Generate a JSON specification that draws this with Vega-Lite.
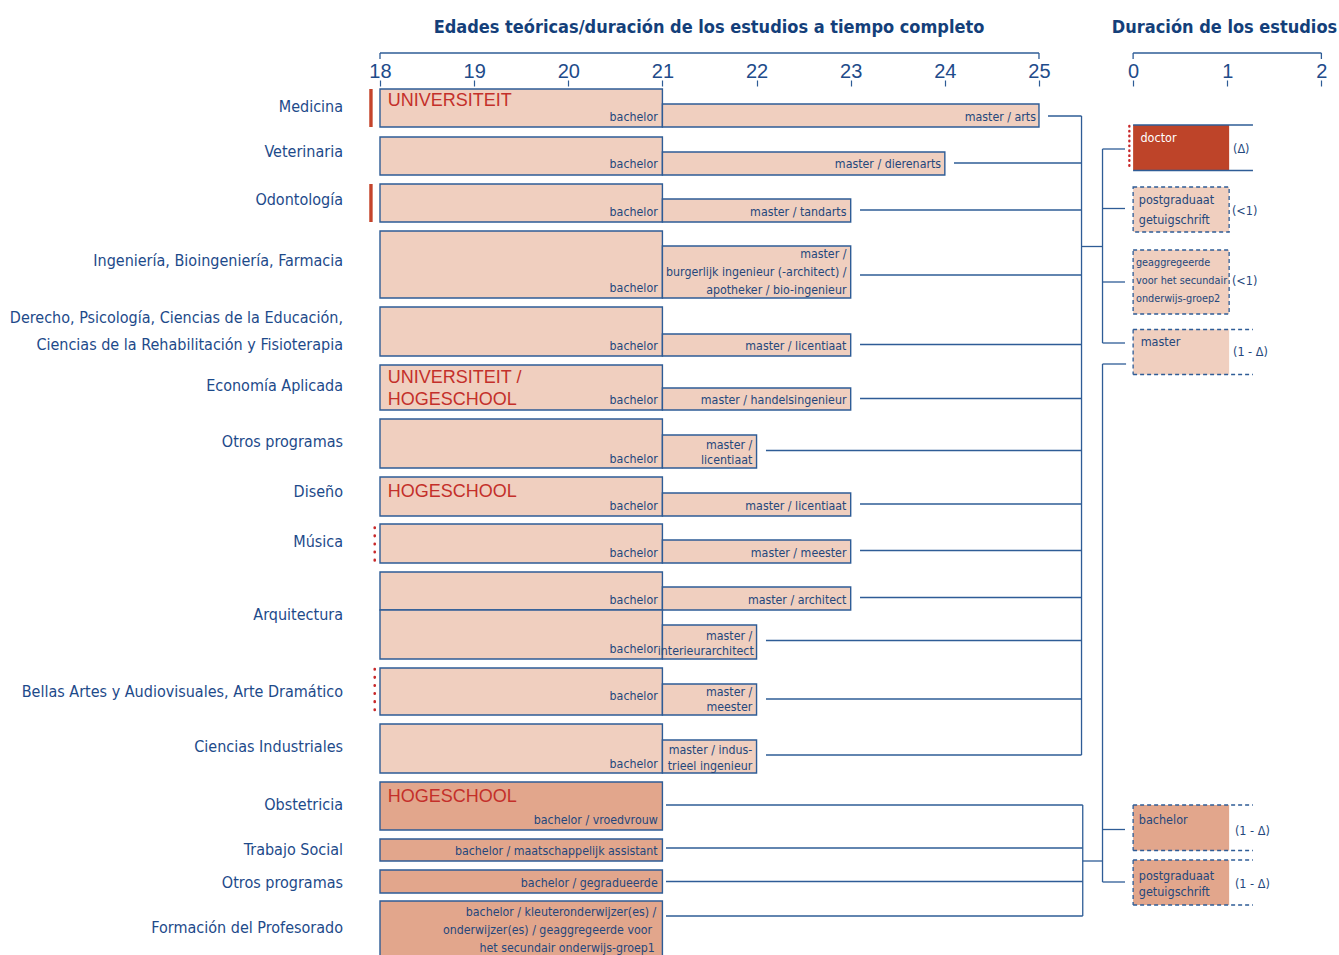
{
  "$schema": "https://vega.github.io/schema/vega-lite/v6.json",
  "width": 1339,
  "height": 955,
  "autosize": {"type": "none"},
  "padding": 0,
  "background": "white",
  "config": {"view": {"stroke": null}, "axis": {"grid": false}},
  "datasets": {
    "bars": [
      {"x": 18, "x2": 21, "y": 89, "y2": 127, "kind": "light"},
      {"x": 21, "x2": 25, "y": 104, "y2": 127, "kind": "light"},
      {"x": 18, "x2": 21, "y": 137, "y2": 175, "kind": "light"},
      {"x": 21, "x2": 24, "y": 152, "y2": 175, "kind": "light"},
      {"x": 18, "x2": 21, "y": 184, "y2": 222, "kind": "light"},
      {"x": 21, "x2": 23, "y": 199, "y2": 222, "kind": "light"},
      {"x": 18, "x2": 21, "y": 231, "y2": 298, "kind": "light"},
      {"x": 21, "x2": 23, "y": 246, "y2": 298, "kind": "light"},
      {"x": 18, "x2": 21, "y": 307, "y2": 356, "kind": "light"},
      {"x": 21, "x2": 23, "y": 334, "y2": 356, "kind": "light"},
      {"x": 18, "x2": 21, "y": 365, "y2": 410, "kind": "light"},
      {"x": 21, "x2": 23, "y": 388, "y2": 410, "kind": "light"},
      {"x": 18, "x2": 21, "y": 419, "y2": 468, "kind": "light"},
      {"x": 21, "x2": 22, "y": 435, "y2": 468, "kind": "light"},
      {"x": 18, "x2": 21, "y": 477, "y2": 516, "kind": "light"},
      {"x": 21, "x2": 23, "y": 493, "y2": 516, "kind": "light"},
      {"x": 18, "x2": 21, "y": 524, "y2": 563, "kind": "light"},
      {"x": 21, "x2": 23, "y": 540, "y2": 563, "kind": "light"},
      {"x": 18, "x2": 21, "y": 572, "y2": 610, "kind": "light"},
      {"x": 21, "x2": 23, "y": 587, "y2": 610, "kind": "light"},
      {"x": 18, "x2": 21, "y": 610, "y2": 659, "kind": "light"},
      {"x": 21, "x2": 22, "y": 625, "y2": 659, "kind": "light"},
      {"x": 18, "x2": 21, "y": 668, "y2": 715, "kind": "light"},
      {"x": 21, "x2": 22, "y": 684, "y2": 715, "kind": "light"},
      {"x": 18, "x2": 21, "y": 724, "y2": 773, "kind": "light"},
      {"x": 21, "x2": 22, "y": 740, "y2": 773, "kind": "light"},
      {"x": 18, "x2": 21, "y": 782, "y2": 830, "kind": "dark"},
      {"x": 18, "x2": 21, "y": 839, "y2": 861, "kind": "dark"},
      {"x": 18, "x2": 21, "y": 870, "y2": 893, "kind": "dark"},
      {"x": 18, "x2": 21, "y": 901, "y2": 962, "kind": "dark"}
    ],
    "dashedBoxes": [
      {"x": 26, "x2": 27.02, "y": 187, "y2": 232, "kind": "light"},
      {"x": 26, "x2": 27.02, "y": 250, "y2": 314, "kind": "light"}
    ],
    "plainBoxes": [
      {"x": 26, "x2": 27.02, "y": 125, "y2": 170.5, "kind": "doctor"},
      {"x": 26, "x2": 27.02, "y": 329.5, "y2": 374.5, "kind": "light"},
      {"x": 26, "x2": 27.02, "y": 805, "y2": 850.5, "kind": "dark"},
      {"x": 26, "x2": 27.02, "y": 860, "y2": 905, "kind": "dark"}
    ],
    "lines": [
      {"x": 18, "x2": 25, "y": 53, "y2": 53},
      {"x": 26, "x2": 28, "y": 53, "y2": 53},
      {"x": 18, "x2": 18, "y": 53, "y2": 59},
      {"x": 25, "x2": 25, "y": 53, "y2": 59},
      {"x": 26, "x2": 26, "y": 53, "y2": 59},
      {"x": 28, "x2": 28, "y": 53, "y2": 59},
      {"x": 25.096, "x2": 25.452, "y": 116, "y2": 116},
      {"x": 24.097, "x2": 25.452, "y": 163, "y2": 163},
      {"x": 23.099, "x2": 25.452, "y": 210, "y2": 210},
      {"x": 23.099, "x2": 25.452, "y": 275, "y2": 275},
      {"x": 23.099, "x2": 25.452, "y": 344.5, "y2": 344.5},
      {"x": 23.099, "x2": 25.452, "y": 398.5, "y2": 398.5},
      {"x": 22.1, "x2": 25.452, "y": 450.5, "y2": 450.5},
      {"x": 23.099, "x2": 25.452, "y": 504, "y2": 504},
      {"x": 23.099, "x2": 25.452, "y": 550.5, "y2": 550.5},
      {"x": 23.099, "x2": 25.452, "y": 597.5, "y2": 597.5},
      {"x": 22.1, "x2": 25.452, "y": 640.5, "y2": 640.5},
      {"x": 22.1, "x2": 25.452, "y": 699, "y2": 699},
      {"x": 22.1, "x2": 25.452, "y": 755, "y2": 755},
      {"x": 25.452, "x2": 25.452, "y": 116, "y2": 755},
      {"x": 25.452, "x2": 25.675, "y": 246.5, "y2": 246.5},
      {"x": 25.675, "x2": 25.675, "y": 149, "y2": 343},
      {"x": 25.675, "x2": 25.914, "y": 149, "y2": 149},
      {"x": 25.675, "x2": 25.914, "y": 208.5, "y2": 208.5},
      {"x": 25.675, "x2": 25.914, "y": 282, "y2": 282},
      {"x": 25.675, "x2": 25.914, "y": 343, "y2": 343},
      {"x": 21.038, "x2": 25.465, "y": 805, "y2": 805},
      {"x": 21.038, "x2": 25.465, "y": 848, "y2": 848},
      {"x": 21.038, "x2": 25.465, "y": 881.5, "y2": 881.5},
      {"x": 21.038, "x2": 25.465, "y": 916, "y2": 916},
      {"x": 25.465, "x2": 25.465, "y": 805, "y2": 916},
      {"x": 25.465, "x2": 25.675, "y": 861, "y2": 861},
      {"x": 25.675, "x2": 25.675, "y": 364, "y2": 882},
      {"x": 25.675, "x2": 25.925, "y": 364, "y2": 364},
      {"x": 25.675, "x2": 25.914, "y": 829.5, "y2": 829.5},
      {"x": 25.675, "x2": 25.914, "y": 882, "y2": 882},
      {"x": 26, "x2": 27.273, "y": 125, "y2": 125},
      {"x": 26, "x2": 27.273, "y": 170.5, "y2": 170.5}
    ],
    "dashLines": [
      {"x": 26, "x2": 26, "y": 329.5, "y2": 374.5},
      {"x": 26, "x2": 27.273, "y": 329.5, "y2": 329.5},
      {"x": 26, "x2": 27.273, "y": 374.5, "y2": 374.5},
      {"x": 26, "x2": 26, "y": 805, "y2": 850.5},
      {"x": 26, "x2": 27.273, "y": 805, "y2": 805},
      {"x": 26, "x2": 27.273, "y": 850.5, "y2": 850.5},
      {"x": 26, "x2": 26, "y": 860, "y2": 905},
      {"x": 26, "x2": 27.273, "y": 860, "y2": 860},
      {"x": 26, "x2": 27.273, "y": 905, "y2": 905}
    ],
    "redBars": [
      {"x": 17.904, "x2": 17.904, "y": 89, "y2": 127},
      {"x": 17.904, "x2": 17.904, "y": 184, "y2": 222}
    ],
    "redDots": [
      {"x": 17.944, "x2": 17.944, "y": 527.5, "y2": 562},
      {"x": 17.944, "x2": 17.944, "y": 669, "y2": 714}
    ],
    "doctorDots": [
      {"x": 25.96, "x2": 25.96, "y": 126, "y2": 170}
    ],
    "cats": [
      {"x": 17.607, "y": 107, "text": "Medicina"},
      {"x": 17.607, "y": 152, "text": "Veterinaria"},
      {"x": 17.607, "y": 199.5, "text": "Odontología"},
      {"x": 17.607, "y": 260.5, "text": "Ingeniería, Bioingeniería, Farmacia"},
      {"x": 17.607, "y": 318, "text": "Derecho, Psicología, Ciencias de la Educación,"},
      {"x": 17.607, "y": 345, "text": "Ciencias de la Rehabilitación y Fisioterapia"},
      {"x": 17.607, "y": 385.5, "text": "Economía Aplicada"},
      {"x": 17.607, "y": 442, "text": "Otros programas"},
      {"x": 17.607, "y": 492, "text": "Diseño"},
      {"x": 17.607, "y": 542, "text": "Música"},
      {"x": 17.607, "y": 615, "text": "Arquitectura"},
      {"x": 17.607, "y": 692, "text": "Bellas Artes y Audiovisuales, Arte Dramático"},
      {"x": 17.607, "y": 746.5, "text": "Ciencias Industriales"},
      {"x": 17.607, "y": 805, "text": "Obstetricia"},
      {"x": 17.607, "y": 850, "text": "Trabajo Social"},
      {"x": 17.607, "y": 883, "text": "Otros programas"},
      {"x": 17.607, "y": 928, "text": "Formación del Profesorado"}
    ],
    "barLabels": [
      {"x": 20.95, "y": 116.5, "text": "bachelor"},
      {"x": 24.968, "y": 116.5, "text": "master / arts"},
      {"x": 20.95, "y": 164, "text": "bachelor"},
      {"x": 23.96, "y": 164, "text": "master / dierenarts"},
      {"x": 20.95, "y": 211.5, "text": "bachelor"},
      {"x": 22.955, "y": 211.5, "text": "master / tandarts"},
      {"x": 22.955, "y": 254, "text": "master /"},
      {"x": 22.955, "y": 272, "text": "burgerlijk ingenieur (-architect) /"},
      {"x": 22.955, "y": 289.5, "text": "apotheker / bio-ingenieur"},
      {"x": 20.95, "y": 288, "text": "bachelor"},
      {"x": 20.95, "y": 346, "text": "bachelor"},
      {"x": 22.955, "y": 346, "text": "master / licentiaat"},
      {"x": 20.95, "y": 399.5, "text": "bachelor"},
      {"x": 22.955, "y": 399.5, "text": "master / handelsingenieur"},
      {"x": 20.95, "y": 458.5, "text": "bachelor"},
      {"x": 21.955, "y": 444.5, "text": "master /"},
      {"x": 21.955, "y": 460, "text": "licentiaat"},
      {"x": 20.95, "y": 505.5, "text": "bachelor"},
      {"x": 22.955, "y": 505.5, "text": "master / licentiaat"},
      {"x": 20.95, "y": 552.5, "text": "bachelor"},
      {"x": 22.955, "y": 552.5, "text": "master / meester"},
      {"x": 20.95, "y": 599.5, "text": "bachelor"},
      {"x": 22.955, "y": 599.5, "text": "master / architect"},
      {"x": 20.95, "y": 649, "text": "bachelor"},
      {"x": 21.955, "y": 636, "text": "master /"},
      {"x": 21.97, "y": 651, "text": "interieurarchitect"},
      {"x": 20.95, "y": 696, "text": "bachelor"},
      {"x": 21.955, "y": 691.5, "text": "master /"},
      {"x": 21.955, "y": 707, "text": "meester"},
      {"x": 20.95, "y": 763.5, "text": "bachelor"},
      {"x": 21.955, "y": 750, "text": "master / indus-"},
      {"x": 21.955, "y": 765.5, "text": "trieel ingenieur"},
      {"x": 20.95, "y": 820, "text": "bachelor / vroedvrouw"},
      {"x": 20.95, "y": 851, "text": "bachelor / maatschappelijk assistant"},
      {"x": 20.95, "y": 882.5, "text": "bachelor / gegradueerde"},
      {"x": 20.935, "y": 911.5, "text": "bachelor / kleuteronderwijzer(es) /"},
      {"x": 20.89, "y": 929.5, "text": "onderwijzer(es) / geaggregeerde voor"},
      {"x": 20.92, "y": 947.5, "text": "het secundair onderwijs-groep1"}
    ],
    "redLabels": [
      {"x": 18.082, "y": 101, "text": "UNIVERSITEIT"},
      {"x": 18.082, "y": 378, "text": "UNIVERSITEIT /"},
      {"x": 18.082, "y": 399.5, "text": "HOGESCHOOL"},
      {"x": 18.082, "y": 492, "text": "HOGESCHOOL"},
      {"x": 18.082, "y": 797, "text": "HOGESCHOOL"}
    ],
    "boxLabels": [
      {"x": 26.06, "y": 199.5, "text": "postgraduaat"},
      {"x": 26.06, "y": 219.5, "text": "getuigschrift"},
      {"x": 26.08, "y": 342, "text": "master"},
      {"x": 26.06, "y": 820, "text": "bachelor"},
      {"x": 26.06, "y": 876, "text": "postgraduaat"},
      {"x": 26.06, "y": 891.5, "text": "getuigschrift"}
    ],
    "smallBoxLabels": [
      {"x": 26.03, "y": 263, "text": "geaggregeerde"},
      {"x": 26.03, "y": 281, "text": "voor het secundair"},
      {"x": 26.03, "y": 298.5, "text": "onderwijs-groep2"}
    ],
    "doctorLabel": [
      {"x": 26.078, "y": 138, "text": "doctor"}
    ],
    "annots": [
      {"x": 27.061, "y": 149, "text": "(Δ)"},
      {"x": 27.05, "y": 211, "text": "(<1)"},
      {"x": 27.05, "y": 281, "text": "(<1)"},
      {"x": 27.061, "y": 352, "text": "(1 - Δ)"},
      {"x": 27.082, "y": 830.5, "text": "(1 - Δ)"},
      {"x": 27.082, "y": 883.5, "text": "(1 - Δ)"}
    ],
    "titles": [
      {"x": 21.495, "y": 28, "text": "Edades teóricas/duración de los estudios a tiempo completo"},
      {"x": 26.971, "y": 28, "text": "Duración de los estudios"}
    ]
  },
  "encoding": {
    "x": {
      "field": "x",
      "type": "quantitative",
      "scale": {"domain": [13.9635, 28.187], "nice": false, "zero": false},
      "axis": {
        "orient": "top",
        "offset": -86,
        "values": [18, 19, 20, 21, 22, 23, 24, 25, 26, 27, 28],
        "labelExpr": "datum.value >= 26 ? '' + (datum.value - 26) : '' + datum.value",
        "domain": false,
        "grid": false,
        "ticks": true,
        "tickSize": 6,
        "tickWidth": 1.2,
        "tickColor": "#2e5c96",
        "labelFont": "Liberation Sans, Arial, sans-serif",
        "labelFontSize": 20,
        "labelColor": "#1e4b8a",
        "labelPadding": 3,
        "labelBaseline": "alphabetic",
        "labelFlush": false,
        "labelOverlap": false,
        "title": null
      }
    },
    "y": {
      "field": "y",
      "type": "quantitative",
      "scale": {"domain": [0, 955], "reverse": true, "nice": false, "zero": false},
      "axis": null
    }
  },
  "layer": [
    {
      "data": {"name": "bars"},
      "mark": {"type": "rect", "stroke": "#2e5c96", "strokeWidth": 1.4, "clip": true},
      "encoding": {
        "x2": {"field": "x2"},
        "y2": {"field": "y2"},
        "color": {"field": "kind", "type": "nominal", "scale": {"domain": ["light", "dark", "doctor"], "range": ["#f0cfbf", "#e2a68c", "#be4429"]}, "legend": null}
      }
    },
    {
      "data": {"name": "dashedBoxes"},
      "mark": {"type": "rect", "stroke": "#2e5c96", "strokeWidth": 1.3, "strokeDash": [4, 3]},
      "encoding": {
        "x2": {"field": "x2"},
        "y2": {"field": "y2"},
        "color": {"field": "kind", "type": "nominal", "legend": null}
      }
    },
    {
      "data": {"name": "plainBoxes"},
      "mark": {"type": "rect"},
      "encoding": {
        "x2": {"field": "x2"},
        "y2": {"field": "y2"},
        "color": {"field": "kind", "type": "nominal", "legend": null}
      }
    },
    {
      "data": {"name": "lines"},
      "mark": {"type": "rule", "color": "#2e5c96", "strokeWidth": 1.3},
      "encoding": {"x2": {"field": "x2"}, "y2": {"field": "y2"}}
    },
    {
      "data": {"name": "dashLines"},
      "mark": {"type": "rule", "color": "#2e5c96", "strokeWidth": 1.3, "strokeDash": [4, 3]},
      "encoding": {"x2": {"field": "x2"}, "y2": {"field": "y2"}}
    },
    {
      "data": {"name": "redBars"},
      "mark": {"type": "rule", "color": "#c4442b", "strokeWidth": 3.4},
      "encoding": {"x2": {"field": "x2"}, "y2": {"field": "y2"}}
    },
    {
      "data": {"name": "redDots"},
      "mark": {"type": "rule", "color": "#c8282a", "strokeWidth": 2.6, "strokeCap": "round", "strokeDash": [0.5, 7.6]},
      "encoding": {"x2": {"field": "x2"}, "y2": {"field": "y2"}}
    },
    {
      "data": {"name": "doctorDots"},
      "mark": {"type": "rule", "color": "#c8282a", "strokeWidth": 2.4, "strokeCap": "round", "strokeDash": [0.5, 4.4]},
      "encoding": {"x2": {"field": "x2"}, "y2": {"field": "y2"}}
    },
    {
      "data": {"name": "cats"},
      "mark": {"type": "text", "align": "right", "baseline": "middle", "font": "DejaVu Sans Condensed, sans-serif", "fontSize": 16, "color": "#1d4a8a"},
      "encoding": {"text": {"field": "text", "type": "nominal"}}
    },
    {
      "data": {"name": "barLabels"},
      "mark": {"type": "text", "align": "right", "baseline": "middle", "font": "DejaVu Sans Condensed, sans-serif", "fontSize": 12.3, "color": "#24477c"},
      "encoding": {"text": {"field": "text", "type": "nominal"}}
    },
    {
      "data": {"name": "redLabels"},
      "mark": {"type": "text", "align": "left", "baseline": "middle", "font": "Liberation Sans, Arial, sans-serif", "fontSize": 18, "color": "#c42f2a"},
      "encoding": {"text": {"field": "text", "type": "nominal"}}
    },
    {
      "data": {"name": "boxLabels"},
      "mark": {"type": "text", "align": "left", "baseline": "middle", "font": "DejaVu Sans Condensed, sans-serif", "fontSize": 12.5, "color": "#24477c"},
      "encoding": {"text": {"field": "text", "type": "nominal"}}
    },
    {
      "data": {"name": "smallBoxLabels"},
      "mark": {"type": "text", "align": "left", "baseline": "middle", "font": "DejaVu Sans Condensed, sans-serif", "fontSize": 10.8, "color": "#24477c"},
      "encoding": {"text": {"field": "text", "type": "nominal"}}
    },
    {
      "data": {"name": "doctorLabel"},
      "mark": {"type": "text", "align": "left", "baseline": "middle", "font": "DejaVu Sans Condensed, sans-serif", "fontSize": 12.5, "color": "#ffffff"},
      "encoding": {"text": {"field": "text", "type": "nominal"}}
    },
    {
      "data": {"name": "annots"},
      "mark": {"type": "text", "align": "left", "baseline": "middle", "font": "DejaVu Sans Condensed, sans-serif", "fontSize": 12.5, "color": "#24477c"},
      "encoding": {"text": {"field": "text", "type": "nominal"}}
    },
    {
      "data": {"name": "titles"},
      "mark": {"type": "text", "align": "center", "baseline": "middle", "font": "DejaVu Sans Condensed, sans-serif", "fontSize": 18, "fontWeight": "bold", "color": "#143f7a"},
      "encoding": {"text": {"field": "text", "type": "nominal"}}
    }
  ]
}
